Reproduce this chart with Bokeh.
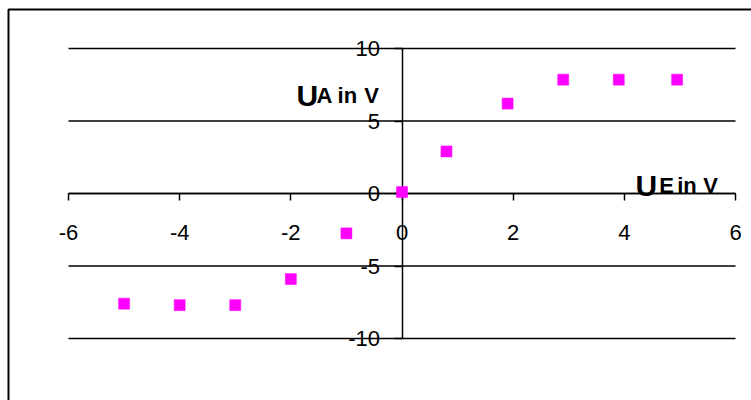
from bokeh.plotting import figure
from bokeh.models import Range1d, FixedTicker, Label, BoxAnnotation, ColumnDataSource
from bokeh.embed import file_html
from bokeh.resources import INLINE

# data
u_e = [-5, -4, -3, -2, -1, 0, 0.8, 1.9, 2.9, 3.9, 4.95]
u_a = [-7.6, -7.7, -7.7, -5.9, -2.75, 0.1, 2.9, 6.2, 7.85, 7.85, 7.85]
x_ticks = [-6, -4, -2, 0, 2, 4, 6]
y_ticks = [-10, -5, 0, 5, 10]

FONT = "Liberation Sans"
W, H = 751, 400
# pixel placement of the plotting area (x: -6..6, y: -10..10)
PL, PR, PT, PB = 68, 735, 48, 338
xlo, xhi = x_ticks[0], x_ticks[-1]
ylo, yhi = y_ticks[0], y_ticks[-1]
sx = (PR - PL) / (xhi - xlo)
sy = (PB - PT) / (yhi - ylo)
x_range = Range1d(xlo - PL / sx, xhi + (W - PR) / sx)
y_range = Range1d(ylo - (H - PB) / sy, yhi + PT / sy)

p = figure(width=W, height=H, output_backend="svg", toolbar_location=None,
           x_range=x_range, y_range=y_range, title=None,
           min_border_left=0, min_border_right=0, min_border_top=0,
           min_border_bottom=0)
p.outline_line_color = None
p.background_fill_color = "white"
p.border_fill_color = "white"
p.xgrid.visible = False
p.ygrid.visible = False

LW = 1.5
# horizontal gridlines spanning the x tick range
gsrc = ColumnDataSource(dict(y=y_ticks, x0=[xlo] * len(y_ticks), x1=[xhi] * len(y_ticks)))
p.segment(x0="x0", y0="y", x1="x1", y1="y", source=gsrc, line_color="black", line_width=LW)

for ax in (p.xaxis[0], p.yaxis[0]):
    ax.fixed_location = 0
    ax.axis_line_color = "black"
    ax.axis_line_width = LW
    ax.major_tick_line_color = "black"
    ax.major_tick_line_width = LW
    ax.major_tick_in = 0
    ax.minor_tick_out = 0
    ax.minor_tick_in = 0
    ax.major_label_text_font = FONT
    ax.major_label_text_font_size = "22px"
    ax.major_label_text_color = "black"

p.xaxis[0].ticker = FixedTicker(ticks=x_ticks)
p.xaxis[0].bounds = (xlo, xhi)
p.xaxis[0].major_tick_out = 7
p.xaxis[0].major_label_standoff = 24
p.xaxis[0].major_label_overrides = {t: str(t) for t in x_ticks}
p.yaxis[0].ticker = FixedTicker(ticks=y_ticks)
p.yaxis[0].bounds = (ylo, yhi)
p.yaxis[0].major_tick_out = 8
p.yaxis[0].major_label_standoff = 14
p.yaxis[0].major_label_overrides = {t: str(t) for t in y_ticks}

src = ColumnDataSource(dict(x=u_e, y=u_a))
p.scatter("x", "y", source=src, marker="square", size=11,
          fill_color="#FF00FF", line_color="#FF00FF", line_width=0.5,
          level="overlay")

def lbl(x, y, t, size):
    p.add_layout(Label(x=x, y=y, text=t, text_font=FONT, text_font_style="bold",
                       text_font_size=size, text_color="black",
                       text_align="left", text_baseline="alphabetic"))

# y axis title "UA in V"
lbl(-1.90, 6.76, "U", "30px")
lbl(-1.54, 6.76, "A", "22px")
lbl(-1.16, 6.76, "in", "22px")
lbl(-0.68, 6.76, "V", "22px")
# x axis title "UE in V"
lbl(4.20, 0.55, "U", "30px")
lbl(4.63, 0.55, "E", "22px")
lbl(4.95, 0.55, "in", "22px")
lbl(5.42, 0.55, "V", "22px")

border = BoxAnnotation(left=8, right=3000, top=9, bottom=3000,
                       left_units="canvas", right_units="canvas",
                       top_units="canvas", bottom_units="canvas",
                       fill_alpha=0, line_color="black", line_alpha=1,
                       line_width=2)
p.add_layout(border)

open("out.html", "w").write(file_html(p, INLINE))
